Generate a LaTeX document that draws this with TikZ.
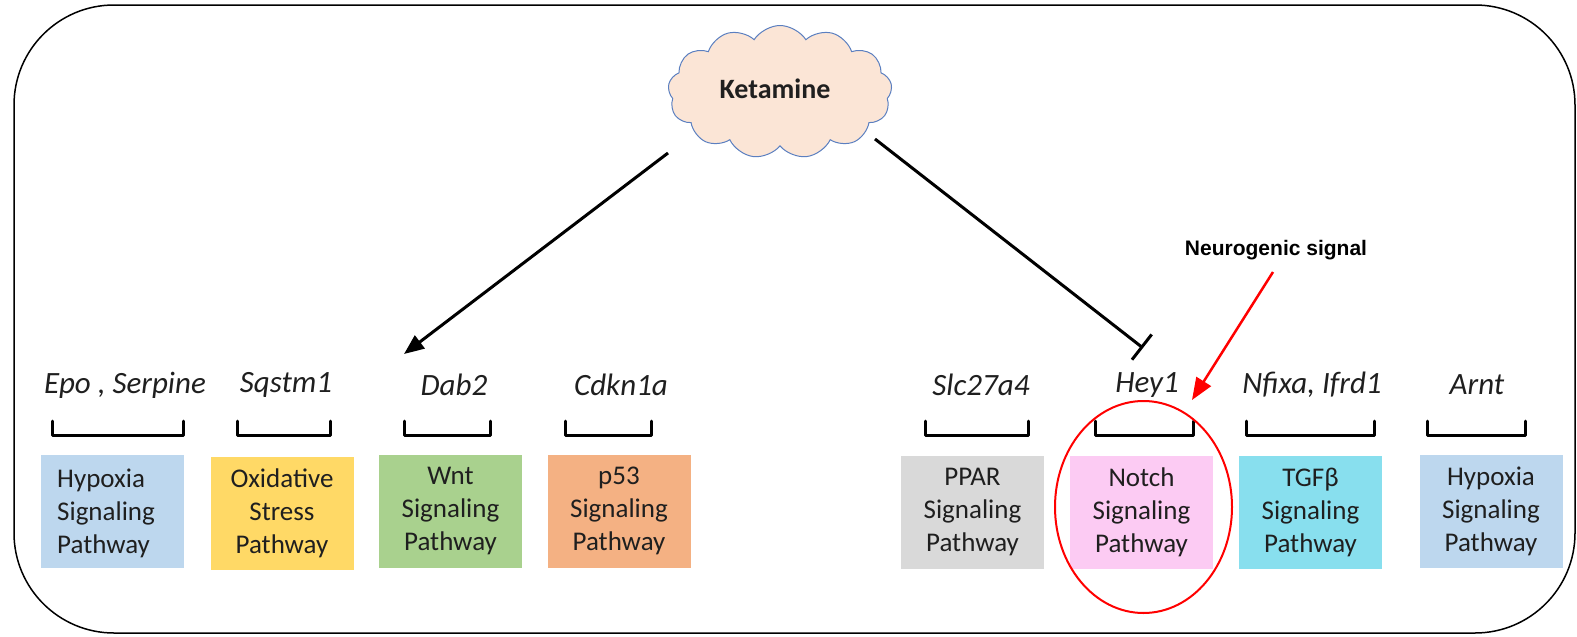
\documentclass[tikz,border=0pt]{standalone}
\usepackage{fontspec}
\setmainfont{Carlito}
\newfontfamily\arialfont{Liberation Sans}
\usetikzlibrary{shapes.symbols,arrows.meta}

\definecolor{hypoxia}{HTML}{BDD7EE}
\definecolor{oxid}{HTML}{FFD966}
\definecolor{wnt}{HTML}{A9D18E}
\definecolor{pfiftythree}{HTML}{F4B183}
\definecolor{ppar}{HTML}{D9D9D9}
\definecolor{notch}{HTML}{FCCBF3}
\definecolor{tgf}{HTML}{88DFEE}
\definecolor{cloudfill}{HTML}{FBE5D6}
\definecolor{cloudline}{HTML}{5B7FC0}
\definecolor{txt}{HTML}{1F1F1F}

\tikzset{
  pathbox/.style={minimum width=143pt, minimum height=113pt, inner sep=0pt,
    align=center, text=txt, font=\fontsize{27}{33}\selectfont},
  gene/.style={font=\fontsize{31}{36}\selectfont\itshape, text=txt, inner sep=0pt},
  bracketline/.style={line width=3pt, line cap=round, line join=round},
  link/.style={line width=3pt},
}

\begin{document}
\begin{tikzpicture}[x=1pt, y=-1pt]
\useasboundingbox (0,0) rectangle (1577,637);

% outer frame
\draw[line width=1.5pt, rounded corners=100pt] (14,5) rectangle (1575,633);

% stimulus
\node[cloud, cloud puffs=13, cloud puff arc=115, cloud ignores aspect,
      minimum width=224pt, minimum height=133pt, fill=cloudfill,
      draw=cloudline, line width=1pt, inner sep=0pt] (ket) at (780,92) {};
\node[font=\fontsize{28}{32}\selectfont\bfseries, text=txt] (ketlabel) at (775,89) {Ketamine};

% gene labels
\node[gene] (gEpo)  at (125,385) {Epo , Serpine};
\node[gene] (gSqs)  at (286,385) {Sqstm1};
\node[gene] (gDab)  at (454,385) {Dab2};
\node[gene] (gCdk)  at (621,385) {Cdkn1a};
\node[gene] (gSlc)  at (981,385) {Slc27a4};
\node[gene] (gHey)  at (1147,385) {Hey1};
\node[gene] (gNfi)  at (1312,385) {Nfixa, Ifrd1};
\node[gene] (gArn)  at (1477,385) {Arnt};

% brackets
\foreach \a/\b in {52/183, 237/330, 404/490, 565/651, 925/1028, 1095/1193, 1246/1374, 1427/1525}
  \draw[bracketline] (\a,421) -- (\a,435) -- (\b,435) -- (\b,421);

% pathway boxes
\node[pathbox, fill=hypoxia] (pHypL) at (112,511.5) {};
\node[anchor=west, align=left, text=txt, font=\fontsize{27}{33}\selectfont, inner sep=0pt]
  (tHypL) at (57,513) {Hypoxia\\Signaling\\Pathway};
\node[pathbox, fill=oxid] (pOxi) at (282,513) {Oxidative\\Stress\\Pathway};
\node[pathbox, fill=wnt] (pWnt) at (450.5,511) {Wnt\\Signaling\\Pathway};
\node[pathbox, fill=pfiftythree] (pP53) at (619,511) {p53\\Signaling\\Pathway};
\node[pathbox, fill=ppar] (pPpar) at (972.5,512) {PPAR\\Signaling\\Pathway};
\node[pathbox, fill=notch] (pNotch) at (1141.5,512.5) {Notch\\Signaling\\Pathway};
\node[pathbox, fill=tgf] (pTgf) at (1310.5,512) {TGFβ\\Signaling\\Pathway};
\node[pathbox, fill=hypoxia] (pHypR) at (1491,511.5) {Hypoxia\\Signaling\\Pathway};

% connectors from the stimulus
\coordinate (kl) at ([shift={(-112,61)}]ket.center);
\coordinate (kr) at ([shift={(95,47)}]ket.center);
\coordinate (dabtip) at (404,354);
\coordinate (heybar) at (1143,348);
\draw[link, -{Triangle[length=20pt, width=16pt]}] (kl) -- (dabtip);
\draw[link, -{Bar[width=32pt, line width=3pt]}] (kr) -- (heybar);

% highlighted pathway
\draw[red, line width=2pt] (1143.5,507) ellipse [x radius=88.5pt, y radius=106pt];
\node[font=\arialfont\fontsize{21}{24}\selectfont\bfseries] (neuro) at (1276,250) {Neurogenic signal};
\coordinate (ns) at (1273,272);
\coordinate (redtip) at (1192,400);
\draw[red, line width=2.5pt, -{Triangle[length=22pt, width=17pt]}] (ns) -- (redtip);
\end{tikzpicture}
\end{document}
